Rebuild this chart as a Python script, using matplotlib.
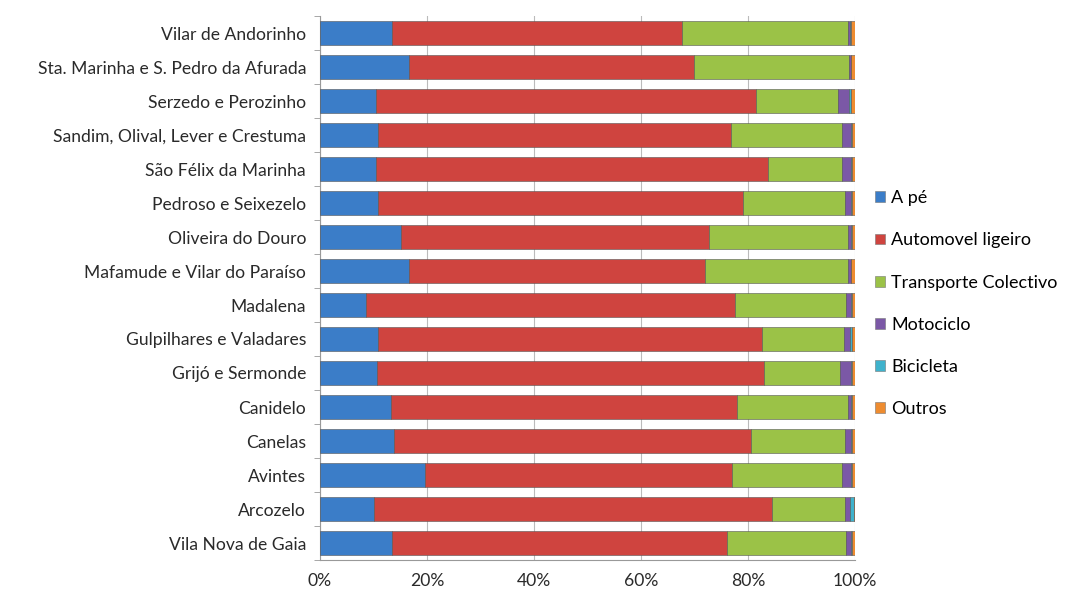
import numpy as np
import matplotlib
matplotlib.use('Agg')
import matplotlib.pyplot as plt
from matplotlib.patches import Patch

plt.rcParams['font.family'] = ['Lato', 'DejaVu Sans']

freguesias = ["Vila Nova de Gaia", "Arcozelo", "Avintes", "Canelas", "Canidelo",
              "Grijó e Sermonde", "Gulpilhares e Valadares", "Madalena",
              "Mafamude e Vilar do Paraíso", "Oliveira do Douro", "Pedroso e Seixezelo",
              "São Félix da Marinha", "Sandim, Olival, Lever e Crestuma",
              "Serzedo e Perozinho", "Sta. Marinha e S. Pedro da Afurada",
              "Vilar de Andorinho"]

a_pe = [13.5, 10.1, 19.6, 13.8, 13.3, 10.7, 10.8, 8.6, 16.6, 15.1, 10.8, 10.5, 10.8, 10.5, 16.6, 13.5]
automovel = [62.6, 74.4, 57.4, 66.8, 64.6, 72.3, 71.8, 69.0, 55.4, 57.6, 68.3, 73.2, 66.0, 71.0, 53.3, 54.2]
transporte = [22.2, 13.6, 20.6, 17.5, 20.8, 14.2, 15.3, 20.7, 26.7, 26.0, 19.0, 13.9, 20.8, 15.3, 29.0, 31.0]
motociclo = [0.9, 0.9, 1.6, 1.2, 0.6, 2.0, 1.2, 1.0, 0.5, 0.6, 1.2, 1.6, 1.6, 2.0, 0.3, 0.4]
bicicleta = [0.2, 0.8, 0.3, 0.2, 0.1, 0.3, 0.3, 0.2, 0.1, 0.2, 0.2, 0.3, 0.2, 0.5, 0.1, 0.2]
outros = [0.6, 0.2, 0.5, 0.5, 0.6, 0.5, 0.6, 0.5, 0.7, 0.5, 0.5, 0.5, 0.6, 0.7, 0.7, 0.7]

series = [("A pé", a_pe, "#3b7dc8"),
          ("Automovel ligeiro", automovel, "#cf443f"),
          ("Transporte Colectivo", transporte, "#9bc247"),
          ("Motociclo", motociclo, "#7b58a6"),
          ("Bicicleta", bicicleta, "#3fb2cc"),
          ("Outros", outros, "#ee8c30")]

fig = plt.figure(figsize=(10.75, 5.94), dpi=100)
ax = fig.add_axes([320 / 1075, 1 - 560 / 594, 535 / 1075, 544 / 594])

y = np.arange(len(freguesias))
tot = np.sum([s[1] for s in series], axis=0)
left = np.zeros(len(freguesias))
for nome, vals, cor in series:
    w = np.array(vals) / tot
    ax.barh(y, w, left=left, height=0.7, color=cor, edgecolor='#555555', linewidth=0.4, zorder=3)
    left += w

ax.set_xlim(0, 1)
ax.set_ylim(-0.5, len(freguesias) - 0.5)
ax.set_yticks(y)
ax.set_yticklabels(freguesias, fontsize=12.6, color='#2a2a2a')
# marcas entre categorias, como no Excel
ax.set_yticks(np.arange(len(freguesias) + 1) - 0.5, minor=True)
ax.tick_params(axis='y', which='major', length=0, pad=10)
ax.tick_params(axis='y', which='minor', length=4, color='#999999')
ax.set_xticks(np.linspace(0, 1, 6))
ax.set_xticklabels(["0%", "20%", "40%", "60%", "80%", "100%"], fontsize=12.6, color='#2a2a2a')
ax.grid(axis='x', color='#bbbbbb', linewidth=0.8, zorder=0)
for s in ['top', 'right']:
    ax.spines[s].set_visible(False)
ax.spines['left'].set_color('#999999')
ax.spines['bottom'].set_color('#999999')
ax.tick_params(axis='x', length=0, pad=9)

handles = [Patch(facecolor=c, edgecolor='#777777', linewidth=0.4) for _, _, c in series]
fig.legend(handles, [s[0] for s in series], loc='upper left', bbox_to_anchor=(868 / 1075, 1 - 183 / 594),
           frameon=False, fontsize=13, handlelength=0.55, handleheight=0.55, handletextpad=0.35,
           labelspacing=1.45, borderaxespad=0)

fig.savefig('out.png', dpi=100)
